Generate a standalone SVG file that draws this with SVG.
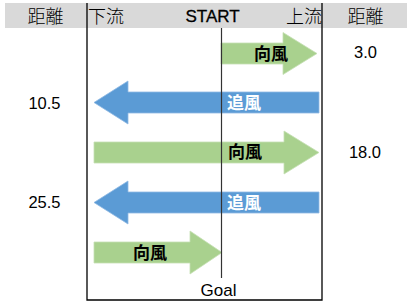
<svg xmlns="http://www.w3.org/2000/svg" width="412" height="307" viewBox="0 0 412 307">
<style>
.hdr{font-family:"Noto Sans CJK JP","Noto Sans CJK SC",sans-serif;font-size:18px;fill:#000;font-weight:300}
.num{font-family:"Liberation Sans",Arial,sans-serif;font-size:16.5px;fill:#000;text-anchor:middle}
.lbl{font-family:"Noto Sans CJK JP","Noto Sans CJK SC",sans-serif;font-size:17px;font-weight:bold;text-anchor:middle}
.green{fill:#A9D18E;stroke:#C5E0B4;stroke-width:0.8}
.blue{fill:#5B9BD5;stroke:#8FB9E3;stroke-width:0.8}
</style>
<rect width="412" height="307" fill="#fff"/>
<g id="header">
<rect x="5" y="3" width="402" height="25" fill="#D9D9D9"/>
<text class="hdr" x="45.5" y="23" text-anchor="middle">距離</text>
<text class="hdr" x="88" y="23">下流</text>
<text x="212.5" y="22" text-anchor="middle" font-family="Liberation Sans,Arial,sans-serif" font-size="17" stroke="#000" stroke-width="0.3">START</text>
<text class="hdr" x="322" y="23" text-anchor="end">上流</text>
<text class="hdr" x="365.5" y="23" text-anchor="middle">距離</text>
</g>
<g id="frame">
<path d="M87,3 V300 H322 V3" fill="none" stroke="#000" stroke-width="1.3"/>
</g>
<g id="distances">
<text class="num" x="365.5" y="58">3.0</text>
<text class="num" x="44.5" y="109">10.5</text>
<text class="num" x="365" y="158">18.0</text>
<text class="num" x="44.5" y="208">25.5</text>
</g>
<g id="arrow1">
<polygon class="green" points="221,43 283,43 283,32.5 317,53.5 283,74.5 283,64 221,64"/>
<text class="lbl" x="271" y="60" fill="#000">向風</text>
</g>
<g id="arrow2">
<polygon class="blue" points="319,92 128,92 128,81 94,102.5 128,124 128,113 319,113"/>
<text class="lbl" x="244" y="109" fill="#fff">追風</text>
</g>
<g id="arrow3">
<polygon class="green" points="94,142 284,142 284,131 319,152.5 284,174 284,163 94,163"/>
<text class="lbl" x="245" y="158" fill="#000">向風</text>
</g>
<g id="arrow4">
<polygon class="blue" points="319,192 128,192 128,181 94,202.5 128,224 128,213 319,213"/>
<text class="lbl" x="244" y="209" fill="#fff">追風</text>
</g>
<g id="arrow5">
<polygon class="green" points="94,242 190,242 190,231 222,252.5 190,274 190,263 94,263"/>
<text class="lbl" x="150" y="259" fill="#000">向風</text>
</g>
<g id="connectors">
<line x1="221.5" y1="28" x2="221.5" y2="278" stroke="#333" stroke-width="1.2"/>
</g>
<g id="goal">
<text x="218.5" y="296" text-anchor="middle" font-family="Liberation Sans,Arial,sans-serif" font-size="17">Goal</text>
</g>
</svg>
